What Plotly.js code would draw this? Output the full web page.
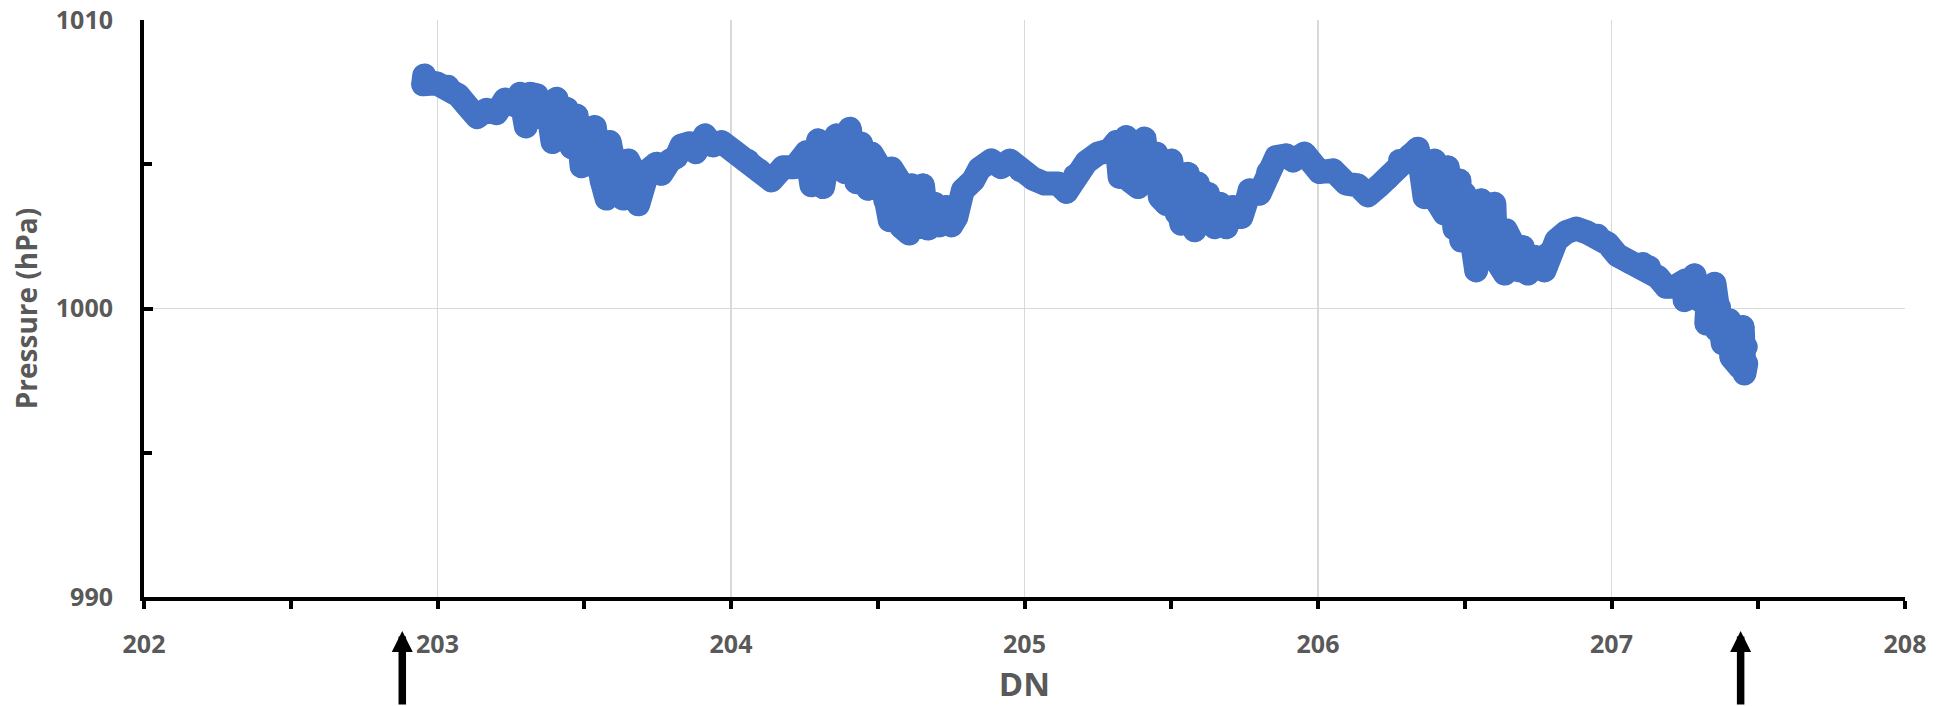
<!DOCTYPE html>
<html>
<head>
<meta charset="utf-8">
<script src="https://cdn.plot.ly/plotly-3.0.1.min.js"></script>
<style>
  html, body { margin: 0; padding: 0; background: #ffffff; }
  #chart { width: 1953px; height: 706px; }
  .js-line { stroke-linejoin: round !important; stroke-linecap: round !important; }
</style>
</head>
<body>
<div id="chart"></div>
<script>
// Day number (DN) of each reading
const dayNumber = [
  202.955, 202.951, 202.997, 203.036, 203.071, 203.105, 203.135, 203.167, 203.201, 203.230,
  203.264, 203.281, 203.301, 203.315, 203.338, 203.349, 203.372, 203.392, 203.406, 203.423,
  203.440, 203.457, 203.474, 203.491, 203.508, 203.536, 203.547, 203.559, 203.576, 203.587,
  203.604, 203.633, 203.650, 203.667, 203.684, 203.701, 203.718, 203.746, 203.763, 203.792,
  203.814, 203.831, 203.860, 203.880, 203.911, 203.939,
  203.968, 204.013, 204.058, 204.098, 204.138, 204.178, 204.217, 204.257, 204.274, 204.297,
  204.314, 204.337, 204.359, 204.388, 204.405, 204.427, 204.444, 204.467, 204.479, 204.507,
  204.524, 204.541, 204.547, 204.569, 204.581, 204.607, 204.615, 204.637, 204.654, 204.671,
  204.694, 204.711, 204.734, 204.751, 204.768, 204.790, 204.825, 204.847, 204.887, 204.921,
  204.950, 204.984, 205.029, 205.069, 205.114, 205.143,
  205.171, 205.211, 205.250, 205.290, 205.313, 205.324, 205.347, 205.358, 205.387, 205.409,
  205.421, 205.449, 205.461, 205.483, 205.500, 205.517, 205.534, 205.557, 205.580, 205.591,
  205.608, 205.625, 205.648, 205.665, 205.688, 205.710, 205.739, 205.761, 205.767, 205.801,
  205.829, 205.858, 205.892, 205.915, 205.954, 205.994,
  206.005, 206.051, 206.096, 206.136, 206.170, 206.210, 206.237, 206.278, 206.312, 206.340,
  206.363, 206.397, 206.403, 206.431, 206.442, 206.465, 206.482, 206.488, 206.499, 206.522,
  206.539, 206.556, 206.562, 206.590, 206.601, 206.607, 206.636, 206.641, 206.664, 206.687,
  206.698, 206.715, 206.738, 206.772, 206.783, 206.812, 206.846, 206.880, 206.914, 206.953,
  206.987, 207.021, 207.061, 207.107, 207.129, 207.158, 207.186, 207.215, 207.254, 207.249,
  207.283, 207.300, 207.328, 207.323, 207.351, 207.357, 207.368, 207.379, 207.402, 207.408,
  207.436, 207.447, 207.459, 207.453, 207.459
];

// Pressure (hPa) of each reading
const pressure = [
  1008.08, 1007.77, 1007.81, 1007.70, 1007.39, 1006.98, 1006.63, 1006.89, 1006.77, 1007.24,
  1007.04, 1007.44, 1006.31, 1007.44, 1007.39, 1006.63, 1007.15, 1005.77, 1007.27, 1006.29,
  1006.92, 1005.59, 1006.69, 1004.93, 1005.94, 1006.29, 1004.79, 1004.44, 1003.81, 1005.77,
  1004.90, 1003.81, 1005.13, 1004.79, 1003.61, 1004.33, 1004.79, 1005.02, 1004.67, 1005.13,
  1005.25, 1005.65, 1005.73, 1005.42, 1006.00, 1005.65,
  1005.77, 1005.42, 1005.13, 1004.79, 1004.44, 1004.90, 1004.90, 1005.42, 1004.27, 1005.83,
  1004.21, 1005.59, 1006.00, 1004.73, 1006.23, 1004.38, 1005.71, 1004.15, 1005.37, 1004.90,
  1003.75, 1003.06, 1004.85, 1004.50, 1002.82, 1002.60, 1004.27, 1002.82, 1004.27, 1002.77,
  1003.63, 1002.88, 1003.52, 1002.88, 1003.17, 1004.10, 1004.44, 1004.85, 1005.13, 1004.90,
  1005.13, 1004.79, 1004.50, 1004.33, 1004.33, 1004.04,
  1004.61, 1005.08, 1005.37, 1005.48, 1005.77, 1004.56, 1005.94, 1004.44, 1004.21, 1005.89,
  1004.56, 1005.37, 1003.86, 1003.63, 1005.13, 1003.29, 1002.94, 1004.67, 1002.71, 1004.33,
  1003.06, 1003.98, 1002.82, 1003.63, 1002.82, 1003.52, 1003.17, 1003.86, 1004.10, 1003.98,
  1004.73, 1005.25, 1005.31, 1005.13, 1005.37, 1004.90,
  1004.73, 1004.79, 1004.33, 1004.27, 1003.92, 1004.27, 1004.51, 1005.13, 1005.31, 1005.54,
  1003.86, 1005.13, 1003.75, 1003.29, 1004.90, 1002.77, 1004.44, 1002.36, 1003.98, 1002.48,
  1001.32, 1003.75, 1002.25, 1002.25, 1003.63, 1001.67, 1001.21, 1002.71, 1002.25, 1001.32,
  1002.13, 1001.21, 1001.79, 1001.32, 1001.90, 1002.36, 1002.65, 1002.77, 1002.65, 1002.54,
  1002.25, 1001.84, 1001.61, 1001.56, 1001.44, 1001.09, 1000.75, 1000.75, 1000.98, 1000.29,
  1001.15, 1000.29, 1000.40, 999.48, 1000.86, 999.25, 1000.05, 998.79, 999.59, 998.32,
  997.98, 999.36, 998.67, 997.75, 998.09
];

// Tick values
const xTicks = [202, 203, 204, 205, 206, 207, 208];
const yTicks = [990, 1000, 1010];

// Days marked with arrows below the axis
const arrowDays = [202.88, 207.44];

const blue = '#4472C4';
const grey = '#595959';
const fam = '"Open Sans", "Liberation Sans", Arial, sans-serif';

const trace = {
  x: dayNumber,
  y: pressure,
  type: 'scatter',
  mode: 'lines+markers',
  line: { color: blue, width: 24 },
  marker: { color: blue, size: 23, line: { width: 0 } },
  hoverinfo: 'x+y'
};

const layout = {
  width: 1953,
  height: 706,
  margin: { l: 144, r: 48, t: 20, b: 109, pad: 0, autoexpand: false },
  paper_bgcolor: '#ffffff',
  plot_bgcolor: '#ffffff',
  showlegend: false,
  font: { family: fam, color: grey },
  xaxis: {
    range: [202, 208],
    tickmode: 'array',
    tickvals: xTicks,
    ticktext: xTicks.map(String),
    showgrid: true,
    gridcolor: '#d9d9d9',
    gridwidth: 1.5,
    zeroline: false,
    showline: true,
    linecolor: '#000000',
    linewidth: 4,
    ticks: 'outside',
    ticklen: 8,
    tickwidth: 4,
    tickcolor: '#000000',
    ticklabelstandoff: 14,
    tickfont: { family: fam, size: 25, color: grey, weight: 700 },
    minor: { dtick: 0.5, tick0: 202, ticks: 'outside', ticklen: 8, tickwidth: 4, tickcolor: '#000000', showgrid: false },
    title: { text: 'DN', font: { family: fam, size: 33, color: grey, weight: 700 }, standoff: 22 },
    automargin: false,
    fixedrange: true
  },
  yaxis: {
    range: [990, 1010],
    tickmode: 'array',
    tickvals: yTicks,
    ticktext: yTicks.map(String),
    showgrid: true,
    gridcolor: '#d9d9d9',
    gridwidth: 1.5,
    zeroline: false,
    showline: true,
    linecolor: '#000000',
    linewidth: 4,
    ticks: 'inside',
    ticklen: 9,
    tickwidth: 4,
    tickcolor: '#000000',
    ticklabelstandoff: 22,
    tickfont: { family: fam, size: 25, color: grey, weight: 700 },
    minor: { dtick: 5, tick0: 990, ticks: 'inside', ticklen: 8, tickwidth: 4, tickcolor: '#000000', showgrid: false },
    title: { text: 'Pressure (hPa)', font: { family: fam, size: 28, color: grey, weight: 700 }, standoff: 11 },
    automargin: false,
    fixedrange: true
  },
  annotations: arrowDays.map(function (d) {
    return {
      x: d, xref: 'x',
      y: -0.059, yref: 'paper',
      ax: 0, ay: 77, axref: 'pixel', ayref: 'pixel',
      text: '',
      showarrow: true,
      arrowhead: 2,
      arrowsize: 0.56,
      arrowwidth: 7.5,
      arrowcolor: '#000000'
    };
  })
};

Plotly.newPlot('chart', [trace], layout, { staticPlot: true, displayModeBar: false });
</script>
</body>
</html>
